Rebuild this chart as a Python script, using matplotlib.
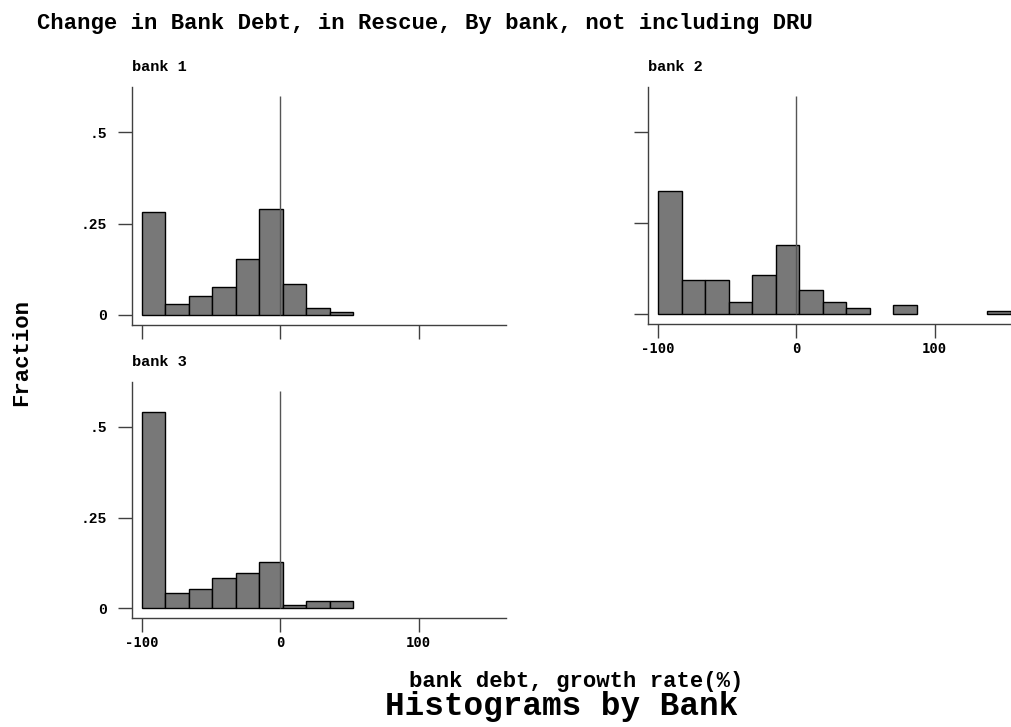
import matplotlib
matplotlib.use("Agg")
import matplotlib.pyplot as plt
import numpy as np

# ---- data (bin fractions) ----
bin_start = -100.0
bin_width = 17.0
bank1 = [0.283, 0.030, 0.052, 0.077, 0.154, 0.289, 0.084, 0.019, 0.0064]
bank2 = [0.339, 0.092, 0.092, 0.033, 0.107, 0.190, 0.066, 0.033, 0.0156,
         0.0, 0.0248, 0.0, 0.0, 0.0, 0.0073]
bank3 = [0.542, 0.042, 0.054, 0.084, 0.097, 0.127, 0.010, 0.021, 0.021]
panel_titles = ["bank 1", "bank 2", "bank 3"]
yticks = [0, 0.25, 0.5]
yticklabels = ["0", ".25", ".5"]
xticks = [-100, 0, 100]
xticklabels = ["-100", "0", "100"]

W, H = 1012, 727
fig = plt.figure(figsize=(W / 100, H / 100), dpi=100)
fig.patch.set_facecolor("white")

MONO = "Liberation Mono"
BAR = "#787878"
AX = "#404040"


def px_axes(x0, ytop, x1, ybot):
    return fig.add_axes([x0 / W, 1 - ybot / H, (x1 - x0) / W, (ybot - ytop) / H])


specs = [
    (bank1, panel_titles[0], px_axes(132, 86.7, 505.7, 325.0), True, False),
    (bank2, panel_titles[1], px_axes(648.3, 86.7, 1022.0, 324.0), False, True),
    (bank3, panel_titles[2], px_axes(132, 381.7, 505.7, 618.3), True, True),
]

for heights, title, ax, show_y, show_x in specs:
    heights = np.asarray(heights)
    lefts = bin_start + bin_width * np.arange(len(heights))
    mask = heights > 0
    ax.bar(lefts[mask], heights[mask], width=bin_width, align="edge",
           color=BAR, edgecolor="black", linewidth=1.0, zorder=2)
    ax.vlines(0, 0, 0.6, color="#555555", linewidth=1.0, zorder=3)
    ax.set_xlim(-107, 163)
    ax.set_ylim(-0.028, 0.625)
    for s in ["top", "right"]:
        ax.spines[s].set_visible(False)
    for s in ["left", "bottom"]:
        ax.spines[s].set_color(AX)
        ax.spines[s].set_linewidth(1.0)
    ax.set_yticks(yticks)
    ax.set_xticks(xticks)
    ax.tick_params(axis="both", length=10, width=1.0, color=AX, direction="out")
    if show_y:
        ax.set_yticklabels(yticklabels, fontfamily=MONO, fontweight="bold",
                           fontsize=10.5)
        ax.tick_params(axis="y", pad=8)
    else:
        ax.set_yticklabels([])
    if show_x:
        ax.set_xticklabels(xticklabels, fontfamily="DejaVu Sans Mono",
                           fontweight="bold", fontsize=10)
        ax.tick_params(axis="x", pad=3)
    else:
        ax.set_xticklabels([])
    ax.set_facecolor("white")
    # panel title
    bb = ax.get_position()
    ax.text(0.0, 1.0, title, transform=ax.transAxes, ha="left", va="bottom",
            fontfamily=MONO, fontweight="bold", fontsize=11,
            )

# reposition panel titles a touch above axes
for t_ax in fig.axes:
    for txt in t_ax.texts:
        txt.set_position((0.0, 1.055))

fig.text(37 / W, 1 - 24 / H, "Change in Bank Debt, in Rescue, By bank, not including DRU",
         ha="left", va="center", fontfamily=MONO, fontweight="bold", fontsize=16)
fig.text(22 / W, 1 - 352 / H, "Fraction", rotation=90, ha="center", va="center",
         fontfamily=MONO, fontweight="bold", fontsize=16)
fig.text(576 / W, 1 - 681 / H, "bank debt, growth rate(%)", ha="center", va="center",
         fontfamily=MONO, fontweight="bold", fontsize=16)
fig.text(562 / W, 1 - 707 / H, "Histograms by Bank", ha="center", va="center",
         fontfamily=MONO, fontweight="bold", fontsize=23.5)

fig.savefig("out.png", dpi=100, facecolor="white")
